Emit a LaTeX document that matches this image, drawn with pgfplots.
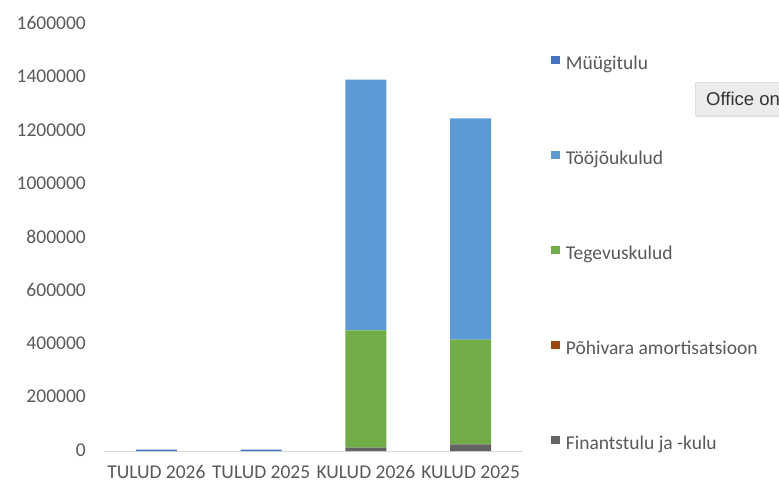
\documentclass[border=0pt]{standalone}
\usepackage{pgfplots}
\pgfplotsset{compat=1.18}
\usepackage{fontspec}
\setmainfont{Carlito}
\newfontfamily\tipfont{Liberation Sans}
\usetikzlibrary{shadows}
\definecolor{cMuug}{HTML}{4472C4}
\definecolor{cTooj}{HTML}{5B9BD5}
\definecolor{cTeg}{HTML}{70AD47}
\definecolor{cPoh}{HTML}{9E480E}
\definecolor{cFin}{HTML}{636363}
\definecolor{txtgray}{HTML}{595959}
\definecolor{axisgray}{HTML}{D9D9D9}
\definecolor{tipfill}{HTML}{ECECEC}
\definecolor{tipborder}{HTML}{C6C6C6}
\begin{document}
\begin{tikzpicture}
\useasboundingbox (0,0) rectangle (779pt,480pt);
\begin{axis}[
  at={(104pt,29pt)}, anchor=south west,
  scale only axis, width=419pt, height=427pt,
  ybar stacked, bar width=41pt,
  xmin=-0.5, xmax=3.5, ymin=0, ymax=1600000,
  xtick={0,1,2,3},
  xticklabels={TULUD 2026, TULUD 2025, KULUD 2026, KULUD 2025},
  ytick={0,200000,400000,600000,800000,1000000,1200000,1400000,1600000},
  scaled y ticks=false,
  axis x line*=bottom, axis y line*=left,
  x axis line style={draw=axisgray, line width=1pt},
  y axis line style={draw=none},
  major tick length=0pt,
  tick label style={font=\fontsize{19.5}{23}\selectfont, text=txtgray, /pgf/number format/assume math mode=true},
  yticklabel style={/pgf/number format/fixed, /pgf/number format/1000 sep={}, anchor=east, inner sep=0pt, xshift=-18pt, yshift=1pt},
  xticklabel style={anchor=base, inner sep=0pt, yshift=-27pt},
  reverse legend,
  legend cell align=left,
  legend image code/.code={\fill[#1] (0pt,0pt) rectangle (8.7pt,8.7pt);},
  legend style={at={(1.0597,0.932)}, anchor=north west, draw=none, fill=none,
    font=\fontsize{19.5}{23}\selectfont, text=txtgray,
    nodes={inner sep=0pt, text height=14pt, text depth=4pt},
    row sep=77pt, column sep=6pt},
]
\addplot[fill=cFin, draw=none] coordinates {(0,0) (1,0) (2,12400) (3,25000)};
\addlegendentry{Finantstulu ja -kulu}
\addplot[fill=cPoh, draw=none] coordinates {(0,0) (1,0) (2,0) (3,0)};
\addlegendentry{Põhivara amortisatsioon}
\addplot[fill=cTeg, draw=none] coordinates {(0,0) (1,0) (2,440000) (3,392000)};
\addlegendentry{Tegevuskulud}
\addplot[fill=cTooj, draw=none] coordinates {(0,0) (1,0) (2,939000) (3,829000)};
\addlegendentry{Tööjõukulud}
\addplot[fill=cMuug, draw=none] coordinates {(0,5500) (1,5500) (2,0) (3,0)};
\addlegendentry{Müügitulu}
\end{axis}
\node[draw=tipborder, fill=tipfill, rounded corners=2pt, anchor=west,
  minimum height=33pt, inner xsep=11pt, inner ysep=0pt, text=black!80,
  drop shadow={opacity=0.2, shadow xshift=0pt, shadow yshift=-2pt},
  font=\tipfont\fontsize{18.5}{22}\selectfont] at (695pt,381pt) {Office online};
\end{tikzpicture}
\end{document}
